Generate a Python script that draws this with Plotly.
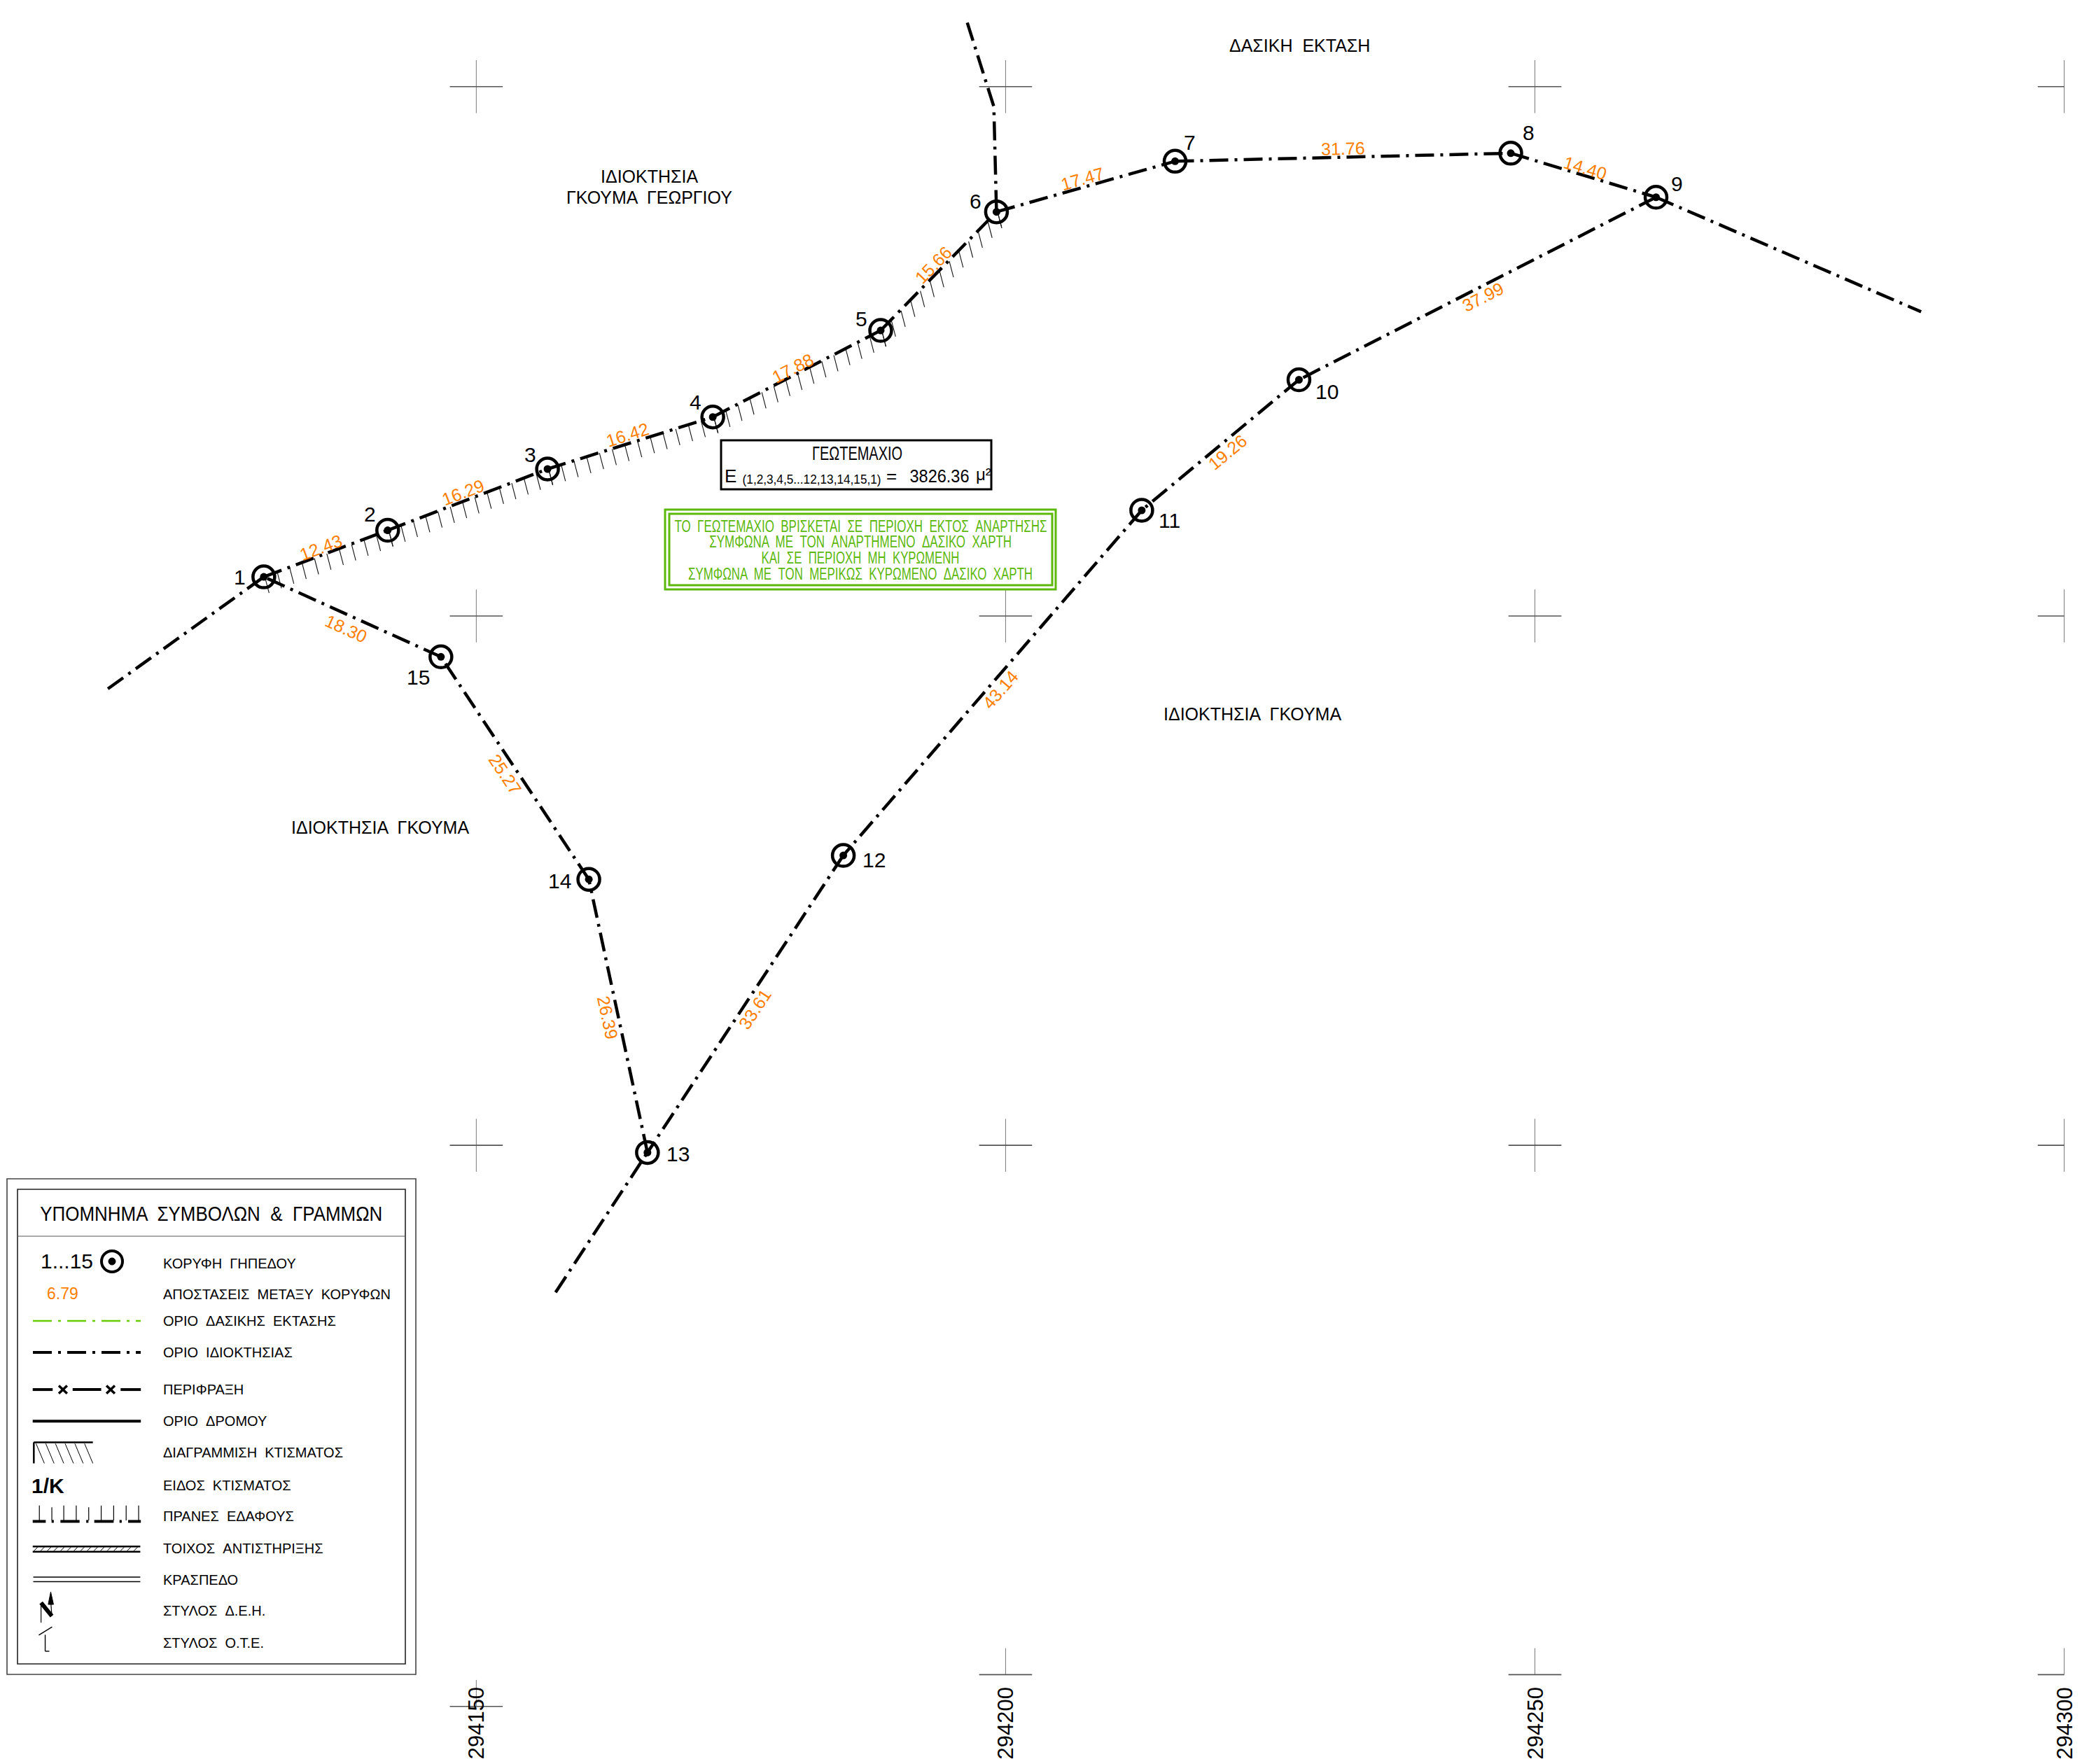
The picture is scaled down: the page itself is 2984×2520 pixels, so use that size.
import json
import math
import plotly.graph_objects as go

W, H = 2984, 2520
# survey coordinates: easting - 294000 (m), northing relative to the top grid row minus 150 (m)
vertex_ids = list(range(1, 16))
vertex_e = [129.93, 141.63, 156.73, 172.34, 188.20, 199.14, 216.01, 247.72, 261.44, 227.71, 212.86, 184.67, 166.17, 160.63, 146.66]
vertex_n = [103.69, 108.09, 113.88, 118.79, 126.97, 138.17, 142.95, 143.71, 139.55, 122.31, 109.98, 77.38, 49.32, 75.12, 96.14]
edge_lengths = ["12.43", "16.29", "16.42", "17.88", "15.66", "17.47", "31.76", "14.40", "37.99", "19.26", "43.14", "33.61", "26.39", "25.27", "18.30"]
west_e, west_n = [115.20, 129.93], [93.12, 103.69]
east_e, east_n = [261.44, 286.48], [139.55, 128.73]
south_e, south_n = [157.49, 166.17], [36.11, 49.32]
north_e, north_n = [196.38, 198.89, 199.14], [156.04, 148.11, 138.17]
grid_e = [150, 200, 250, 300]
grid_n = [150, 100, 50, 0]
grid_labels = ["294150", "294200", "294250", "294300"]
hatch_e = vertex_e[:6] + [200.0]
hatch_n = vertex_n[:6] + [138.45]

X0, X1 = 105.01, 302.34
Y0, Y1 = -8.44, 158.18
SC = W / (X1 - X0)
FONT = "Liberation Sans"
ORANGE = "#ff8000"
GREEN = "#5cb80a"
BLACK = "#000000"
DASHDOT = "27px,9px,4px,9px"

fig = go.Figure()

def add_line(xs, ys, width=4.5, color=BLACK, dash=DASHDOT):
    fig.add_trace(go.Scatter(x=xs, y=ys, mode="lines", hoverinfo="skip", showlegend=False,
                             line=dict(color=color, width=width, dash=dash)))

# grid crosses
ARM = 2.5
hx, hy, vx, vy = [], [], [], []
for e in grid_e:
    for n in grid_n:
        cy = -3.0 if (e == 150 and n == 0) else n
        right = 0 if e == 300 else ARM
        hx += [e - ARM, e + right, None]; hy += [cy, cy, None]
        lo = 0 if n == 0 else ARM
        vx += [e, e, None]; vy += [cy + ARM, cy - lo, None]
add_line(vx, vy, 1, "#777777", "solid")
add_line(hx, hy, 1.6, "#555555", "solid")

# hatching beneath the building edge
tx, ty = [], []
STEP = 18.6 / SC
for (a, b, c, d) in zip(hatch_e[:-1], hatch_n[:-1], hatch_e[1:], hatch_n[1:]):
    L = math.hypot(c - a, d - b)
    k = int(L / STEP)
    for i in range(k + 1):
        px_e = a + (c - a) * i / max(k, 1)
        px_n = b + (d - b) * i / max(k, 1)
        tx += [px_e + 0.1, px_e + 0.1 + 6 / SC, None]
        ty += [px_n, px_n - 23 / SC, None]
add_line(tx, ty, 1.1, "#111111", "solid")

# property boundary
order = vertex_ids + [1]
for i in range(15):
    a, b = order[i] - 1, order[i + 1] - 1
    add_line([vertex_e[a], vertex_e[b]], [vertex_n[a], vertex_n[b]])
add_line(west_e, west_n)
add_line(east_e, east_n)
add_line(south_e, south_n)
add_line(north_e, north_n)

fig.add_trace(go.Scatter(x=vertex_e, y=vertex_n, mode="markers", hoverinfo="skip", showlegend=False,
                         marker=dict(symbol="circle-open", size=31, color=BLACK, line=dict(width=4.5, color=BLACK))))
fig.add_trace(go.Scatter(x=vertex_e, y=vertex_n, mode="markers", hoverinfo="skip", showlegend=False,
                         marker=dict(symbol="circle", size=11, color=BLACK)))

anns = []
def data_text(x, y, text, size, color=BLACK, angle=0, xs=0, ys=0, font=FONT):
    anns.append(dict(x=x, y=y, xref="x", yref="y", text=text, showarrow=False, textangle=angle,
                     xshift=xs, yshift=ys, font=dict(family=font, size=size, color=color),
                     xanchor="center", yanchor="middle", borderpad=0, borderwidth=0))

def px_text(x, y, text, size, color=BLACK, anchor="center", angle=0, font=FONT):
    anns.append(dict(x=x / W, y=1 - y / H, xref="paper", yref="paper", text=text, showarrow=False, textangle=angle,
                     font=dict(family=font, size=size, color=color), xanchor=anchor, yanchor="middle",
                     borderpad=0, borderwidth=0))

# vertex numbers
num_dx = [-34, -25, -25, -25, -27, -30, 21, 25, 30, 40, 40, 44, 44, -42, -32]
num_dy = [0, -23, -21, -21, -17, -15, -27, -29, -19, 17, 15, 6, 2, 2, 29]
for i, v in enumerate(vertex_ids):
    data_text(vertex_e[i], vertex_n[i], str(v), 30, xs=num_dx[i], ys=-num_dy[i])

# edge lengths
len_dx = [-7, -6, -4, -6, -7, -4, 0, 3, 8, 10, 11, 14, -15, -14, -9]
len_dy = [-9, -11, -12, -8, -9, -11, -13, -10, 12, 10, 9, 7, 3, 9, 17]
for i in range(15):
    a, b = order[i] - 1, order[i + 1] - 1
    dx, dy = vertex_e[b] - vertex_e[a], -(vertex_n[b] - vertex_n[a])
    ang = math.degrees(math.atan2(dy, dx))
    if ang > 90: ang -= 180
    if ang <= -90: ang += 180
    data_text((vertex_e[a] + vertex_e[b]) / 2, (vertex_n[a] + vertex_n[b]) / 2, edge_lengths[i], 25, ORANGE,
              ang, len_dx[i], -len_dy[i])

# grid labels
for e, lab in zip(grid_e, grid_labels):
    anns.append(dict(x=e, y=1 - 2462 / H, xref="x", yref="paper", text=lab, showarrow=False, textangle=-90,
                     font=dict(family=FONT, size=31, color=BLACK), xanchor="center", yanchor="middle"))

SP = " \u00a0"
# map area names
px_text(927, 252, "ΙΔΙΟΚΤΗΣΙΑ", 25)
px_text(927, 282, "ΓΚΟΥΜΑ" + SP + "ΓΕΩΡΓΙΟΥ", 25)
px_text(1856, 65, "ΔΑΣΙΚΗ" + SP + "ΕΚΤΑΣΗ", 25)
px_text(1789, 1020, "ΙΔΙΟΚΤΗΣΙΑ" + SP + "ΓΚΟΥΜΑ", 25)
px_text(543, 1182, "ΙΔΙΟΚΤΗΣΙΑ" + SP + "ΓΚΟΥΜΑ", 25)

# paper-space furniture
shapes = []
def sline(x0, y0, x1, y1, width=1, color=BLACK, dash="solid"):
    shapes.append(dict(type="line", xref="paper", yref="paper", x0=x0 / W, y0=1 - y0 / H, x1=x1 / W, y1=1 - y1 / H,
                       line=dict(color=color, width=width, dash=dash)))
def srect(x0, y0, x1, y1, width=1, color=BLACK, fill=None):
    shapes.append(dict(type="rect", xref="paper", yref="paper", x0=x0 / W, y0=1 - y0 / H, x1=x1 / W, y1=1 - y1 / H,
                       line=dict(color=color, width=width), fillcolor=fill or "rgba(0,0,0,0)"))
def scircle(cx, cy, r, width=4, color=BLACK, fill=None):
    shapes.append(dict(type="circle", xref="paper", yref="paper", x0=(cx - r) / W, x1=(cx + r) / W,
                       y0=1 - (cy + r) / H, y1=1 - (cy - r) / H, line=dict(color=color, width=width),
                       fillcolor=fill or "rgba(0,0,0,0)"))

condensed = {}  # text -> target drawn width, the CAD font is narrower than any installed face

# area box
srect(1030, 629, 1416, 699, 3)
t_geo = "ΓΕΩΤΕΜΑΧΙΟ"
t_sub = "(1,2,3,4,5...12,13,14,15,1)"
t_area = "3826.36"
px_text(1224, 648, t_geo, 28); condensed[t_geo] = 129
px_text(1035, 680, "Ε", 26, anchor="left")
px_text(1056, 685, t_sub, 18, anchor="left"); condensed[t_sub] = 198
px_text(1266, 680, "=", 26, anchor="left")
px_text(1295, 680, t_area, 26, anchor="left"); condensed[t_area] = 85
px_text(1394, 678, "μ²", 24, anchor="left")

# green note
srect(950, 728, 1508, 842, 3, GREEN)
srect(956, 734, 1503, 836, 3, GREEN)
note_lines = [
    "ΤΟ" + SP + "ΓΕΩΤΕΜΑΧΙΟ" + SP + "ΒΡΙΣΚΕΤΑΙ" + SP + "ΣΕ" + SP + "ΠΕΡΙΟΧΗ" + SP + "ΕΚΤΟΣ" + SP + "ΑΝΑΡΤΗΣΗΣ",
    "ΣΥΜΦΩΝΑ" + SP + "ΜΕ" + SP + "ΤΟΝ" + SP + "ΑΝΑΡΤΗΜΕΝΟ" + SP + "ΔΑΣΙΚΟ" + SP + "ΧΑΡΤΗ",
    "ΚΑΙ" + SP + "ΣΕ" + SP + "ΠΕΡΙΟΧΗ" + SP + "ΜΗ" + SP + "ΚΥΡΩΜΕΝΗ",
    "ΣΥΜΦΩΝΑ" + SP + "ΜΕ" + SP + "ΤΟΝ" + SP + "ΜΕΡΙΚΩΣ" + SP + "ΚΥΡΩΜΕΝΟ" + SP + "ΔΑΣΙΚΟ" + SP + "ΧΑΡΤΗ"]
for y, t, w in zip([752, 774, 797, 820], note_lines, [532, 432, 283, 492]):
    px_text(1229, y, t, 23, GREEN)
    condensed[t] = w

# legend frame
srect(10, 1684, 594, 2392, 1.6, "#444444")
srect(25, 1699, 579, 2377, 1.6, "#222222")
sline(25, 1766, 579, 1766, 1, "#555555")
t_title = "ΥΠΟΜΝΗΜΑ" + SP + "ΣΥΜΒΟΛΩΝ" + SP + "&" + SP + "ΓΡΑΜΜΩΝ"
px_text(302, 1733, t_title, 30)
condensed[t_title] = 489

legend_y = [1805, 1849.5, 1887, 1932, 1985, 2030, 2075, 2122, 2166, 2212, 2257, 2301, 2347]
legend_labels = ["ΚΟΡΥΦΗ" + SP + "ΓΗΠΕΔΟΥ", "ΑΠΟΣΤΑΣΕΙΣ" + SP + "ΜΕΤΑΞΥ" + SP + "ΚΟΡΥΦΩΝ",
                 "ΟΡΙΟ" + SP + "ΔΑΣΙΚΗΣ" + SP + "ΕΚΤΑΣΗΣ", "ΟΡΙΟ" + SP + "ΙΔΙΟΚΤΗΣΙΑΣ", "ΠΕΡΙΦΡΑΞΗ",
                 "ΟΡΙΟ" + SP + "ΔΡΟΜΟΥ", "ΔΙΑΓΡΑΜΜΙΣΗ" + SP + "ΚΤΙΣΜΑΤΟΣ", "ΕΙΔΟΣ" + SP + "ΚΤΙΣΜΑΤΟΣ",
                 "ΠΡΑΝΕΣ" + SP + "ΕΔΑΦΟΥΣ", "ΤΟΙΧΟΣ" + SP + "ΑΝΤΙΣΤΗΡΙΞΗΣ", "ΚΡΑΣΠΕΔΟ",
                 "ΣΤΥΛΟΣ" + SP + "Δ.Ε.Η.", "ΣΤΥΛΟΣ" + SP + "Ο.Τ.Ε."]
for y, t in zip(legend_y, legend_labels):
    px_text(233, y, t, 20, anchor="left")

lx = lambda z: z / 2.525
ly = lambda z: 1680 + z / 2.124
def zline(a, b, c, d, width=1, color=BLACK, dash="solid"):
    sline(lx(a), ly(b), lx(c), ly(d), width, color, dash)

px_text(95, 1801, "1...15", 30)
scircle(160, 1802, 15, 4)
scircle(160, 1802, 5, 1, BLACK, BLACK)
px_text(89, 1848, "6.79", 23, ORANGE)
sline(47, 1887, 201, 1887, 2.5, "#66cc00", DASHDOT)
sline(47, 1932, 201, 1932, 4, BLACK, DASHDOT)
for a, b in [(118, 190), (262, 365), (435, 508)]:
    zline(a, 648, b, 648, 4)
for c in [227, 399]:
    zline(c - 15, 636, c + 15, 660, 3.5)
    zline(c - 15, 660, c + 15, 636, 3.5)
zline(118, 744, 508, 744, 4)
zline(122, 808, 335, 808, 2.5)
zline(122, 808, 122, 872, 2.5)
for z in [130, 165, 200, 235, 270, 305]:
    zline(z, 812, z + 30, 872, 1)
px_text(68, 2122, "<b>1/Κ</b>", 30)
for a, b in [(118, 165), (218, 287), (340, 410), (462, 508)]:
    zline(a, 1048, b, 1048, 4)
for z in [190, 315, 435]:
    zline(z - 4, 1048, z + 4, 1048, 4)
for z, t in [(142, 1000), (187, 1005), (230, 1000), (275, 1000), (320, 1005), (365, 1000), (410, 1000), (455, 1000), (500, 1000)]:
    zline(z, t, z, 1045, 1.2)
zline(118, 1124, 506, 1124, 2.5)
zline(118, 1140, 506, 1140, 2.5)
for z in range(122, 500, 24):
    zline(z, 1138, z + 14, 1126, 1)
zline(120, 1217, 506, 1217, 1.4)
zline(120, 1231, 506, 1231, 1.4)
# pole symbols
zline(148, 1295, 187, 1335, 6)
zline(148, 1295, 148, 1355, 1.2)
zline(187, 1335, 183, 1290, 1.2)
shapes.append(dict(type="path", xref="paper", yref="paper", line=dict(color=BLACK, width=1), fillcolor=BLACK,
                   path="M {:.5f},{:.5f} L {:.5f},{:.5f} L {:.5f},{:.5f} Z".format(
                       lx(183) / W, 1 - ly(1262) / H, lx(174) / W, 1 - ly(1300) / H, lx(193) / W, 1 - ly(1300) / H)))
zline(163, 1392, 163, 1442, 1.4)
zline(140, 1393, 188, 1368, 1.4)
zline(163, 1442, 178, 1442, 1.4)

fig.update_layout(
    width=W, height=H, margin=dict(l=0, r=0, t=0, b=0), paper_bgcolor="white", plot_bgcolor="white",
    xaxis=dict(range=[X0, X1], visible=False, fixedrange=True),
    yaxis=dict(range=[Y0, Y1], visible=False, fixedrange=True),
    annotations=anns, shapes=shapes, showlegend=False,
)
post = """
document.body.style.margin='0';
(function(){
  var m = %s;
  function fit(){
    document.querySelectorAll('.annotation-text').forEach(function(t){
      var w = m[t.textContent];
      if (w) { t.setAttribute('textLength', w); t.setAttribute('lengthAdjust', 'spacingAndGlyphs'); }
    });
  }
  fit(); setTimeout(fit, 100);
})();
""" % json.dumps(condensed)
fig.write_html("out.html", post_script=post, config={"displayModeBar": False})
